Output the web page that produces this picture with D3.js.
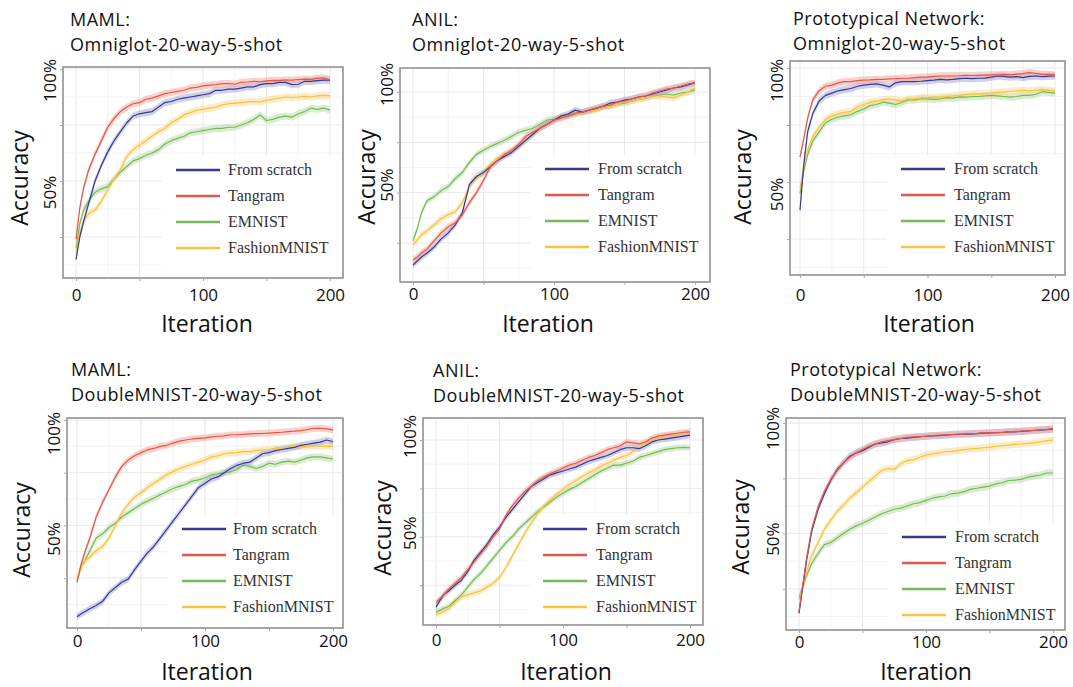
<!DOCTYPE html>
<html>
<head>
<meta charset="utf-8">
<script src="https://cdn.jsdelivr.net/npm/d3@7"></script>
<style>
  body { margin: 0; background: #fff; }
  svg text { font-family: "Open Sans", "Noto Sans", sans-serif; fill: #111; }
  svg .legend text { font-family: "Liberation Serif", serif; fill: #333; }
</style>
</head>
<body>
<div id="plot"></div>
<script>
// Shared categories / labels
const iters = [0,3,6,10,15,20,25,30,35,40,45,50,55,60,65,70,75,80,85,90,95,100,105,110,115,120,125,130,135,140,145,150,155,160,165,170,175,180,185,190,195,200];
const seriesNames = ["From scratch", "Tangram", "EMNIST", "FashionMNIST"];
const methods = ["MAML:", "ANIL:", "Prototypical Network:"];
const tasks = ["Omniglot-20-way-5-shot", "DoubleMNIST-20-way-5-shot"];
const xTickValues = [0, 50, 100, 150, 200];
const yTickValues = [25, 50, 75, 100];
const yTickText = { 100: "100%", 50: "50%" };

// MAML / Omniglot
const mamlOmniScratch = [15,25,32,40,50,57,63,68,72,76,79,80,80.5,81,83,85,85.5,86.5,87,87.5,88,88.5,89,90.5,90.5,91,91,91.5,92,92,93,93.5,93.5,94,94,93,93.2,94.5,94.5,94.8,95,95];
const mamlOmniTangram = [24,38,47,55,62,68,74,78,81,83,84.5,85,86.5,87,88,89,89.5,90,90.5,91.5,91.8,92.5,92.8,93,93.5,93.5,93.2,94,94.2,94.5,94.3,94.7,94.9,94.8,95.1,95,95.3,95.5,95.4,95.8,96,95.2];
const mamlOmniEmnist = [20,31,37,41,45,46.5,47.5,51,54,56.5,59,60,61.5,62.5,64,66.5,68,69,70,71.5,72,72.5,73,73.5,73.5,74,74,75,76,77.5,79.5,77,77.5,78.5,79,78.5,80,81,82.5,82,82.5,81.7];
const mamlOmniFashion = [18,27,32,35.5,37,41,46,51,55,61,64,66,68,70,72,73.5,76,77.5,79.5,80.5,81.5,82,82.5,83,84,84.5,84.8,85,85.3,85.5,85.2,86,86.5,87,87.5,87.2,87.5,87.8,87.5,88,88.2,88];

// ANIL / Omniglot
const anilOmniScratch = [14,16,18,20,23,27,30,34,40,54,58,60,63,66,68,70,73,76,79,82,84,86,88,89,91,90,91,92,93,94.5,95,96,96.5,97.5,98,99,100,101,102,102.5,103.5,104.5];
const anilOmniTangram = [16.5,18,20,22,26,30,33,35,39,45,50,56,63,66,69,71,74,78,80,82,84,86,87,88,89.5,90,91,92,93,93.5,95,95.5,96.5,97.5,98,99.5,100.5,101.5,102,103,104,104.5];
const anilOmniEmnist = [26,32,40,46,48,51,53,57,60,65,69,71,73,74.5,76,78,80,81,82,84,86,86.5,87.5,88,89,90,90.5,91.5,92.5,93,94,94.5,95.5,96.5,97,98,98.5,99,98.5,99.5,100,101];
const anilOmniFashion = [24,26.5,29,31,34,37,39,40.5,45,53,57,60,64,67,69,71,73,76,79,82,84,86,87.5,88.5,89.5,90,90.5,91,92.5,93,94,95,95.5,96.5,97,98,98,97.5,97,98.5,100,102];

// Prototypical / Omniglot
const protoOmniScratch = [37.7,58,72,80,85.5,88,89,90,90.5,91,92,92.5,92.8,93,92.5,91.7,93.5,94,94,94,94.2,94.5,94.7,95,94.8,95,95.3,95.5,95.3,95.5,95.6,96,96.5,96.3,96,96.2,95.8,96.3,96.5,96.2,96.4,96.5];
const protoOmniTangram = [61,69,78,86,90,92,92.5,93.5,94,94,94.5,94.7,94.8,95,95,95.2,95.3,95.5,95.5,95.8,96,96,96.3,96.5,96.5,96.5,96.6,96.8,96.7,96.8,96.9,97,97,97.2,97,97.3,97.5,98,97.6,97.2,97.2,97];
const protoOmniEmnist = [45,55,62,68,72,76,77.5,78.5,79,79.5,81,82,83.5,84,85,84.6,84,85,86,86,86.5,86.5,86.2,86.5,87,86.8,87.3,87.2,87.5,87.5,87.8,88,87.8,87.5,87.2,87.5,88,88,88.5,89.6,89.3,89];
const protoOmniFashion = [47,57,64,70,74,77.5,79,80,80.5,81,83,84,85,85.5,86,86.5,86,85.5,86.5,86.5,87,87,87.2,87.3,87.5,87.8,88,88.3,88.6,88.5,88.8,89,89.3,89.5,89.8,90,90.2,90,90.3,90.5,90.2,90];

// MAML / DoubleMNIST
const mamlDoubleScratch = [6.7,8,9,10.5,12,14,18,20.5,23,24.5,29,33,37,40,44,48,52,56,60,64,68,70,72,73,75,77,78.5,79.5,80,82,84,84.5,85.5,86,86.5,87,88,88.5,89,89.5,90.5,89.7];
const mamlDoubleTangram = [23,31,37,44,54,61,67,73,78,81,83,84.5,85.8,86.5,87.5,88,89,90,90.5,91,91.3,91.5,92,92.3,92.5,93,93,93.2,93.4,93.5,93.6,93.8,94,94.2,94.5,94.7,95,95.5,96,96,95.8,95.3];
const mamlDoubleEmnist = [24,30,33,38,44,46,49,51,54,56,58,60,61.5,63,64.5,66,67.5,68.5,69.5,71,71.6,72.5,74,74.5,75,75.4,76.5,78.7,78,77,78,79.5,79,80,80.5,80,81,82,82.5,82.5,82,81.5];
const mamlDoubleFashion = [24,30,33,35,38,40,44,50,56,60,63.5,65.5,68,70,72,74,75.5,77,78,79,80,81,82.5,83,84,84.3,84.5,85,85,85.5,85.8,86,86.5,86.8,87,87.5,87.5,87.3,87.8,87.5,87.6,87.5];

// ANIL / DoubleMNIST
const anilDoubleScratch = [13.7,17,20,22,25,27.6,32,38,42,46,51,55,60,64,68,72,76,78,80,82,83,84,85,86,87.5,89,90,91,92,93.5,95,96,96,95.5,97,99,100,100.5,101,101.5,102,102.5];
const anilDoubleTangram = [16,18,20,23,26,29,33,37,41,45,50,54,61,66,70,73.5,76,79,81,82.5,84,85.5,87,88,89.5,91,92,93.5,95,96,97,99,98.5,98,99,101,102,102.5,103,103.5,104,104.2];
const anilDoubleEmnist = [11,12,13,14,17,20,24,28,31,35,39,43,47,50,54,57,60,63,65.5,68,70.5,72.5,74.5,76,78,80,82,84,85.5,87,87,88,89,91,92,93,94,95,95.5,96,96.2,96];
const anilDoubleFashion = [10,10.5,11.5,13,16,19,20,21,22,24,26,29,34,40,46,52,57,62,66,69,72,74.5,77,79,81,83,84.5,86.5,88,89.5,91,92,94,96,98,100,101,102,102.5,103,103.5,103.5];

// Prototypical / DoubleMNIST
const protoDoubleScratch = [14,26,38,51,61,68,74,79,82,85,86.5,87.5,89,90.5,91,91.5,92.5,93,93.2,93.5,93.8,94,94.2,94.3,94.5,94.7,94.8,95,95,95.2,95.4,95.5,95.6,95.7,96,96,96.2,96.4,96.6,96.8,97,97.2];
const protoDoubleTangram = [15,27,39,52,62,69,74.5,78.5,82,84.5,86.5,88,89.5,90.5,91.5,92,92.5,93,93.5,93.7,93.8,94,94.3,94.5,94.6,94.8,95,95,95.2,95.3,95.5,95.5,95.6,95.8,96,96.2,96.3,96.5,96.7,96.9,97.1,97.4];
const protoDoubleEmnist = [21,26,31,36.5,41,45,46,48,50,52,53.5,54.7,56,57.5,59,60,61,61.5,62.5,63.5,64,65,66,66.6,67,68,68.3,69,70,70.5,71,71.5,72.5,73,74,74.2,74.5,75.5,76,76.5,77.4,77.4];
const protoDoubleFashion = [20,26,33,40,46,52,56,60,63,66,68.5,71,73.5,76,78.5,79.5,79,81.5,83,83.3,84.5,85.5,86,86.5,87,87.2,87.5,88,88.3,88.5,88.8,89,89.5,89.8,90,90.3,90.5,90.8,91,91.5,92,92.3];

const colors = ["#363a91", "#e3584c", "#77b958", "#f7c440"];
const bandColors = ["#a9abd6", "#f2aaa3", "#b9dcaa", "#f8dc96"];
const drawOrder = [2, 3, 0, 1];

// panel layout (pixels)
const panels = [
  { m: 0, t: 0, s: [mamlOmniScratch, mamlOmniTangram, mamlOmniEmnist, mamlOmniFashion],
    box: [63, 343, 67, 278], x0: 76, x200: 330, y100: 69, step: 56, shift: 11,
    title: [70, 26], acc: [20, 178], iterX: 207, iterY: 332, tickY: 301, leg: [176, 170, 228] },
  { m: 1, t: 0, s: [anilOmniScratch, anilOmniTangram, anilOmniEmnist, anilOmniFashion],
    box: [400, 710, 68, 282], x0: 413, x200: 695, y100: 92, step: 50.3, shift: -8,
    title: [412, 26], acc: [367, 177], iterX: 548, iterY: 332, tickY: 300, leg: [545, 169, 598] },
  { m: 2, t: 0, s: [protoOmniScratch, protoOmniTangram, protoOmniEmnist, protoOmniFashion],
    box: [790, 1065, 61, 275], x0: 800, x200: 1055, y100: 68, step: 57, shift: 12,
    title: [793, 25], acc: [743, 177], iterX: 929, iterY: 332, tickY: 301, leg: [901, 169, 954] },
  { m: 0, t: 1, s: [mamlDoubleScratch, mamlDoubleTangram, mamlDoubleEmnist, mamlDoubleFashion],
    box: [67, 343, 418, 628], x0: 77, x200: 333, y100: 420, step: 52.7, shift: 13,
    title: [71, 376], acc: [22, 530], iterX: 207, iterY: 680, tickY: 647, leg: [182, 529, 233] },
  { m: 1, t: 1, s: [anilDoubleScratch, anilDoubleTangram, anilDoubleEmnist, anilDoubleFashion],
    box: [423, 703, 418, 625], x0: 436, x200: 690, y100: 440, step: 48.4, shift: -4,
    title: [433, 377], acc: [383, 528], iterX: 566, iterY: 680, tickY: 646, leg: [543, 529, 596] },
  { m: 2, t: 1, s: [protoDoubleScratch, protoDoubleTangram, protoDoubleEmnist, protoDoubleFashion],
    box: [786, 1065, 418, 630], x0: 799, x200: 1053, y100: 423, step: 55.3, shift: 5,
    title: [790, 376], acc: [741, 527], iterX: 926, iterY: 680, tickY: 648, leg: [902, 537, 955] }
];

const svg = d3.select("#plot")
  .append("svg")
    .attr("width", 1073)
    .attr("height", 687);

panels.forEach(p => {
  const [l, r, t, b] = p.box;
  const k = p.step / 25; // px per percent
  const x = d3.scaleLinear().domain([0, 200]).range([p.x0, p.x200]);
  const y = d3.scaleLinear()
    .domain([100 - (b - p.y100) / k, 100 + (p.y100 - t) / k])
    .range([b, t]);

  const g = svg.append("g");

  // grid
  const vGrid = d3.range(0, 201, 25).filter(v => x(v) > l && x(v) < r);
  g.selectAll(".vg").data(vGrid).join("line")
    .attr("x1", d => x(d)).attr("x2", d => x(d))
    .attr("y1", t).attr("y2", b)
    .attr("stroke", d => d % 50 === 0 ? "#e9e9e9" : "#f3f3f3").attr("stroke-width", 1);
  const hGrid = d3.range(0, 125, 12.5).filter(v => y(v) > t && y(v) < b);
  g.selectAll(".hg").data(hGrid).join("line")
    .attr("y1", d => y(d)).attr("y2", d => y(d))
    .attr("x1", l).attr("x2", r)
    .attr("stroke", d => d % 25 === 0 ? "#e9e9e9" : "#f3f3f3").attr("stroke-width", 1);

  // legend background (covers grid)
  const [lx, ly, tx] = p.leg;
  g.append("rect")
    .attr("x", lx - 14).attr("y", ly - 14)
    .attr("width", r - lx + 13).attr("height", b - ly + 13)
    .attr("fill", "#fff");

  // bands and lines
  const area = d3.area()
    .x((d, i) => x(iters[i]))
    .y0(d => y(d - 1.6))
    .y1(d => y(d + 1.6));
  const line = d3.line()
    .x((d, i) => x(iters[i]))
    .y(d => y(d));
  drawOrder.forEach(si => {
    g.append("path").datum(p.s[si])
      .attr("d", area)
      .attr("fill", bandColors[si]).attr("opacity", 0.55);
  });
  drawOrder.forEach(si => {
    g.append("path").datum(p.s[si])
      .attr("d", line)
      .attr("fill", "none")
      .attr("stroke", colors[si]).attr("stroke-width", 1.2)
      .attr("stroke-linejoin", "round");
  });

  // frame
  g.append("rect")
    .attr("x", l).attr("y", t)
    .attr("width", r - l).attr("height", b - t)
    .attr("fill", "none").attr("stroke", "#8a8a8a").attr("stroke-width", 1.5);

  // x axis
  const xAxis = g.append("g")
    .attr("transform", `translate(0,${b})`)
    .call(d3.axisBottom(x).tickValues(xTickValues).tickSize(3)
      .tickFormat(d => d % 100 === 0 ? d : ""));
  xAxis.select(".domain").remove();
  xAxis.selectAll("line").attr("stroke", "#aaa");
  xAxis.selectAll("text")
    .attr("y", p.tickY - b).attr("dy", null)
    .style("font-size", "17px")
    .style("font-family", "'Open Sans', sans-serif")
    .attr("fill", "#111");

  // y axis
  const yAxis = g.append("g")
    .attr("transform", `translate(${l},0)`)
    .call(d3.axisLeft(y).tickValues(yTickValues).tickSize(3)
      .tickFormat(d => yTickText[d] || ""));
  yAxis.select(".domain").remove();
  yAxis.selectAll("line").attr("stroke", "#aaa");
  yAxis.selectAll("text")
    .attr("x", 0).attr("y", 0).attr("dy", "0.35em")
    .attr("transform", `translate(-13,${p.shift}) rotate(-90)`)
    .attr("text-anchor", "middle")
    .style("font-size", "17px")
    .style("font-family", "'Open Sans', sans-serif")
    .attr("fill", "#111");

  // two-line title
  const [ttx, tty] = p.title;
  g.append("text").attr("x", ttx).attr("y", tty)
    .style("font-size", "18px").style("letter-spacing", "0.5px")
    .text(methods[p.m]);
  g.append("text").attr("x", ttx).attr("y", tty + 25)
    .style("font-size", "18px").style("letter-spacing", "0.5px")
    .text(tasks[p.t]);

  // axis titles
  g.append("text")
    .attr("transform", `translate(${p.acc[0]},${p.acc[1]}) rotate(-90)`)
    .attr("text-anchor", "middle").attr("dy", "0.35em")
    .style("font-size", "23px").text("Accuracy");
  g.append("text")
    .attr("x", p.iterX).attr("y", p.iterY)
    .attr("text-anchor", "middle")
    .style("font-size", "23px").text("Iteration");

  // legend
  const leg = g.append("g").attr("class", "legend");
  seriesNames.forEach((name, i) => {
    const yy = ly + i * 26;
    leg.append("line")
      .attr("x1", lx).attr("x2", lx + 44)
      .attr("y1", yy).attr("y2", yy)
      .attr("stroke", colors[i]).attr("stroke-width", 2.6);
    leg.append("text")
      .attr("x", tx).attr("y", yy + 5)
      .style("font-size", "16px").text(name);
  });
});
</script>
</body>
</html>
